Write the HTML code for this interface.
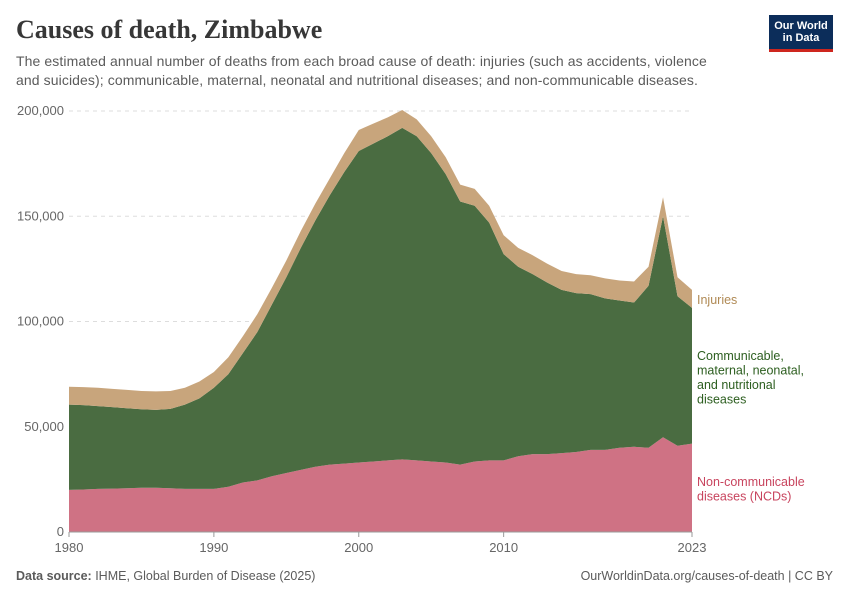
<!DOCTYPE html>
<html><head><meta charset="utf-8">
<style>
body{margin:0;width:850px;height:600px;background:#fff;font-family:"Liberation Sans",sans-serif;overflow:hidden;position:relative}
.t{position:absolute;margin:0}
</style></head><body>
<h1 class="t" style="left:16px;top:15px;font-family:'Liberation Serif',serif;font-size:26px;font-weight:bold;color:#373737">Causes of death, Zimbabwe</h1>
<p class="t" style="left:16px;top:52px;width:712px;font-size:14px;line-height:19px;color:#5b5b5b;letter-spacing:0.1px">The estimated annual number of deaths from each broad cause of death: injuries (such as accidents, violence and suicides); communicable, maternal, neonatal and nutritional diseases; and non-communicable diseases.</p>
<div class="t" style="left:769px;top:15px;width:64px;height:37px;background:#0c2d5a;border-bottom:3px solid #ce261e;box-sizing:border-box;color:#fff;font-size:11px;line-height:12px;text-align:center;padding-top:5px;font-weight:bold">Our World<br>in Data</div>
<svg id="c" width="850" height="600" style="position:absolute;left:0;top:0"></svg>
<p class="t" style="left:16px;top:569px;font-size:12.5px;color:#5b5b5b"><b>Data source:</b> IHME, Global Burden of Disease (2025)</p>
<p class="t" style="right:17px;top:569px;font-size:12.5px;color:#5b5b5b">OurWorldinData.org/causes-of-death | CC BY</p>
<script>
const years=[];for(let y=1980;y<=2023;y++)years.push(y);
const ncd=[20,20.2,20.5,20.6,20.8,21,21,20.8,20.5,20.5,20.5,21.5,23.5,24.5,26.5,28,29.5,31,32,32.5,33,33.5,34,34.5,34,33.5,33,32,33.5,34,34,36,37,37,37.5,38,39,39,40,40.5,40,45,41,42];
const communicable=[40.5,40.1,39.3,38.7,38,37.3,37,37.7,40,43,48,53.5,61.5,70.5,81.5,93,105.5,117,128,138.5,148,151,154,157.5,154,146.5,137,125,121.5,113,98,90,85.5,81.5,77.5,75.5,74,72,70,68.5,77,105,71,64.5];
const injuries=[8.5,8.5,8.7,8.7,8.7,8.7,8.8,8.5,8,8,7.5,8,8,8.5,8,8,8,8,8,9,10,9.5,9,8.5,8,8,8,8,8,8,9,9,9,9,9,9,9,9.5,9.5,10,9,9,9,8.5];
const yTicks=[0,50000,100000,150000,200000];
const yTickLabels=["0","50,000","100,000","150,000","200,000"];
const xTicks=[1980,1990,2000,2010,2023];
const NS="http://www.w3.org/2000/svg",svg=document.getElementById('c');
const X=y=>69+(y-1980)*(692-69)/43, Y=v=>532-v*(532-111)/200000;
function mk(t,a,p){const e=document.createElementNS(NS,t);for(const k in a)e.setAttribute(k,a[k]);(p||svg).appendChild(e);return e;}
yTicks.forEach((v,i)=>{
 if(v>0){const g=mk('line',{x1:69,x2:692,y1:Y(v),y2:Y(v),stroke:'#ddd','stroke-dasharray':'4,4'});
 
 }
 const t=mk('text',{x:64,y:Y(v)+4,'text-anchor':'end','font-size':13,fill:'#666'});t.textContent=yTickLabels[i];
 
 
});
const series=[[ncd,'#cf7284','area-ncd'],[communicable,'#4a6c41','area-communicable'],[injuries,'#c8a57c','area-injuries']];
let base=years.map(()=>0);
series.forEach(([d,c,n])=>{
 const top=base.map((b,i)=>b+d[i]*1000);
 let p=years.map((y,i)=>(i?'L':'M')+X(y)+','+Y(top[i])).join('');
 for(let i=years.length-1;i>=0;i--)p+='L'+X(years[i])+','+Y(base[i]);
 const e=mk('path',{d:p+'Z',fill:c});
 
 
 base=top;
});
mk('line',{x1:69,x2:692,y1:532,y2:532,stroke:'#999'});
xTicks.forEach(y=>{
 mk('line',{x1:X(y),x2:X(y),y1:532,y2:537,stroke:'#999'});
 const t=mk('text',{x:X(y),y:552,'text-anchor':'middle','font-size':13,fill:'#666'});t.textContent=y;
 
 
});
const labels=[[['Injuries'],304,'#b08a55','label-injuries'],[['Communicable,','maternal, neonatal,','and nutritional','diseases'],360,'#2c5e1f','label-communicable'],[['Non-communicable','diseases (NCDs)'],486,'#c8445e','label-ncd']];
labels.forEach(([ls,y0,c,n])=>{
 const t=mk('text',{x:697,y:y0,'font-size':12.5,fill:c});
 
 
 ls.forEach((l,i)=>{const s=mk('tspan',{x:697,y:y0+i*14.5},t);s.textContent=l;});
});
</script>
</body></html>
